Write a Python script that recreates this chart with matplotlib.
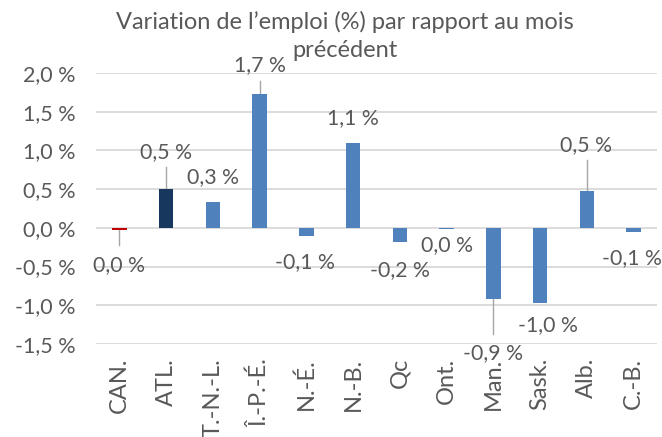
import matplotlib.pyplot as plt
from matplotlib.ticker import FuncFormatter

plt.rcParams['font.family'] = ['Lato', 'DejaVu Sans']

# Data
regions = ["CAN.", "ATL.", "T.-N.-L.", "Î.-P.-É.", "N.-É.", "N.-B.", "Qc", "Ont.",
           "Man.", "Sask.", "Alb.", "C.-B."]
changes = [-0.03, 0.50, 0.34, 1.73, -0.10, 1.10, -0.18, -0.02, -0.92, -0.97, 0.48, -0.06]
labels = ["0,0 %", "0,5 %", "0,3 %", "1,7 %", "-0,1 %", "1,1 %", "-0,2 %", "0,0 %",
          "-0,9 %", "-1,0 %", "0,5 %", "-0,1 %"]

# label placement (x offset, y position) and which ones get a leader line
label_dx = [0, 0, 0, 0, -0.03, 0, 0, 0, 0, 0.17, -0.03, -0.03]
label_y = [-0.48, 0.98, 0.65, 2.10, -0.44, 1.42, -0.54, -0.22, -1.62, -1.25, 1.07, -0.39]
leader_end = {0: -0.22, 1: 0.78, 3: 1.90, 8: -1.37, 10: 0.87}

blue = "#4F81BD"
colors = [blue] * len(regions)
colors[0] = "#C00000"
colors[1] = "#17375E"
text_gray = "#595959"

fig = plt.figure(figsize=(6.62, 4.37), dpi=100)
ax = fig.add_axes([0.145, 0.2128, 0.8475, 0.6202])

x = range(len(regions))
ax.bar(x, changes, width=0.31, color=colors, zorder=3)

for i in x:
    if i in leader_end:
        ax.plot([i, i], [changes[i], leader_end[i]], color="#A6A6A6", lw=1, zorder=2)
    ax.text(i + label_dx[i], label_y[i], labels[i], ha="center", va="center",
            fontsize=15.3, color=text_gray, zorder=4, clip_on=False)

ax.set_ylim(-1.5, 2.0)
ax.set_xlim(-0.5, len(regions) - 0.5)
ax.set_yticks([-1.5, -1.0, -0.5, 0.0, 0.5, 1.0, 1.5, 2.0])
ax.yaxis.set_major_formatter(FuncFormatter(lambda v, p: f"{v:.1f} %".replace(".", ",")))
ax.set_xticks(list(x))
ax.set_xticklabels(regions, rotation=90)
ax.tick_params(axis="both", length=0, colors=text_gray)
ax.tick_params(axis="y", pad=15, labelsize=15.5)
ax.tick_params(axis="x", pad=10, labelsize=17)
ax.grid(axis="y", color="#D9D9D9", lw=1.3, zorder=0)
for s in ax.spines.values():
    s.set_visible(False)

fig.text(0.521, 0.917, "Variation de l’emploi (%) par rapport au mois\nprécédent",
         ha="center", va="center", fontsize=17, color=text_gray, linespacing=1.4)

fig.savefig("out.png", dpi=100)
